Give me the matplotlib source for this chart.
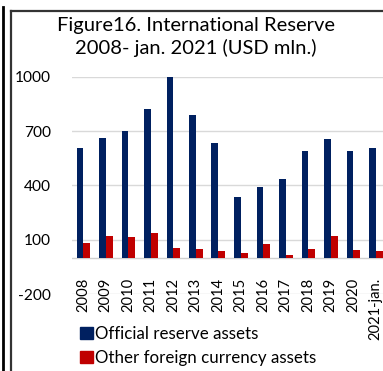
import numpy as np
import matplotlib
matplotlib.use("Agg")
import matplotlib.pyplot as plt
from matplotlib.lines import Line2D
import matplotlib.transforms as mtransforms

plt.rcParams['font.family'] = ['Lato', 'DejaVu Sans']

# data (USD mln.)
years = ['2008', '2009', '2010', '2011', '2012', '2013', '2014', '2015',
         '2016', '2017', '2018', '2019', '2020', '2021-jan.']
official = [609, 664, 698, 824, 1000, 786, 632, 338, 389, 433, 589, 654, 592, 609]
other_fx = [82, 124, 117, 137, 56, 51, 40, 27, 78, 18, 51, 121, 42, 40]
yticks = [-200, 100, 400, 700, 1000]

blue = '#002060'
red = '#C00000'

fig = plt.figure(figsize=(3.83, 3.71), dpi=100)
ax = fig.add_axes([72 / 383, 1 - 294.3 / 371, 315 / 383, (294.3 - 76.6) / 371])

x = np.arange(len(years))
w = 0.3
ax.bar(x - w / 2, official, width=w, color=blue, zorder=3)
ax.bar(x + w / 2, other_fx, width=w, color=red, zorder=3)

ax.set_ylim(-200, 1000)
ax.set_xlim(-0.5, len(years) - 0.5)
ax.set_yticks(yticks)
ax.set_yticklabels([str(v) for v in yticks], fontsize=11.2)
ax.tick_params(axis='y', length=0, pad=15)
ax.set_xticks([])
for v in yticks:
    ax.axhline(v, color='#d9d9d9', lw=1, zorder=1)
ax.axhline(0, color='#d0d0d0', lw=1, zorder=2)
for s in ax.spines.values():
    s.set_visible(False)

# category labels sit under the zero line
off = mtransforms.offset_copy(ax.transData, fig=fig, x=0, y=-20, units='dots')
for i, lab in enumerate(years):
    ax.text(i, 0, lab, rotation=90, ha='center', va='top', fontsize=10.6,
            transform=off, clip_on=False)

fig.text(0.512, 1 - 17 / 371, 'Figure16. International Reserve\n2008- jan. 2021 (USD mln.)',
         ha='center', va='top', fontsize=14.5, linespacing=1.3)

handles = [plt.Rectangle((0, 0), 1, 1, color=blue), plt.Rectangle((0, 0), 1, 1, color=red)]
fig.legend(handles, ['Official reserve assets', 'Other foreign currency assets'],
           loc='upper left', bbox_to_anchor=(80 / 383, 1 - 326 / 371), frameon=False,
           fontsize=12.2, handlelength=0.75, handleheight=0.75, handletextpad=0.15,
           labelspacing=0.45, borderpad=0, borderaxespad=0)

# chart frame lines
fig.add_artist(Line2D([2.5 / 383, 2.5 / 383], [0, 1 - 7 / 371], color='black', lw=2))
fig.add_artist(Line2D([11 / 383, 11 / 383], [0, 1 - 11 / 371], color='#333333', lw=1.6))
fig.add_artist(Line2D([11 / 383, 1], [1 - 11 / 371, 1 - 11 / 371], color='#333333', lw=1.6))

fig.savefig('out.png', dpi=100)
